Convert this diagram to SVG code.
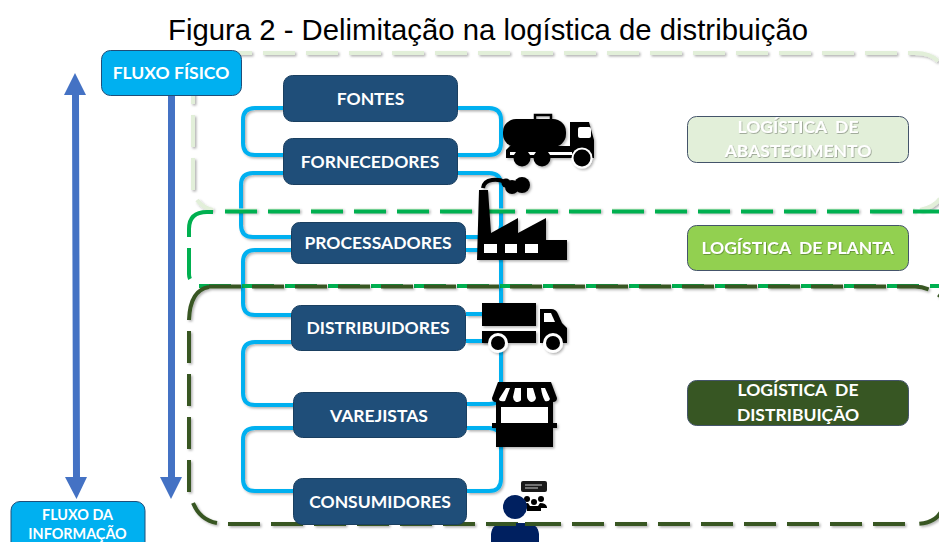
<svg xmlns="http://www.w3.org/2000/svg" width="939" height="542" viewBox="0 0 939 542">
<style>
.t{font-family:"Lato","Liberation Sans",sans-serif;font-weight:700;font-size:17.500px;fill:#fff;text-anchor:middle;white-space:pre}
.n{fill:#1F4E79;stroke:#1a3f60;stroke-width:1}
.c{fill:none;stroke:#00B0F0;stroke-width:4}
.d{fill:none;stroke-width:4;stroke-dasharray:32 11}
.a{fill:#4472C4}
.k{fill:#000}
.w{fill:#fff}
.f{fill:#00B0F0;stroke:#1F4E79;stroke-width:1}
.l{stroke:#44546A;stroke-width:1}
</style>
<defs>
<filter id="sh" x="-5%" y="-5%" width="110%" height="110%"><feDropShadow dx="1.500" dy="1.500" stdDeviation="1.200" flood-color="#000" flood-opacity="0.3"/></filter>
<filter id="ts" x="-5%" y="-20%" width="110%" height="140%"><feDropShadow dx="0.700" dy="0.700" stdDeviation="0.600" flood-color="#000" flood-opacity="0.4"/></filter>
</defs>
<rect width="939" height="542" fill="#fff"/>
<text x="488" y="40" font-family="Liberation Sans,sans-serif" font-size="29.300" fill="#000" text-anchor="middle">Figura 2 - Delimitação na logística de distribuição</text>

<g id="connectors">
<g filter="url(#sh)">
<path class="c" d="M284 108H255Q243 108 243 120V143Q243 155 255 155H284"/>
<path class="c" d="M457 108H489Q501 108 501 120V143Q501 155 489 155H457"/>
<path class="c" d="M284 173H253Q241 173 241 185V225Q241 237 253 237H292"/>
<path class="c" d="M457 173H489Q501 173 501 185V225Q501 237 489 237H466"/>
<path class="c" d="M292 250H255Q243 250 243 262V303Q243 315 255 315H292"/>
<path class="c" d="M466 250H489Q501 250 501 262V303Q501 314 489 314H466"/>
<path class="c" d="M292 342H255Q243 342 243 354V393Q243 405 255 405H294"/>
<path class="c" d="M466 341H489Q501 341 501 353V392Q501 404 489 404H467"/>
<path class="c" d="M294 428H255Q243 428 243 440V479Q243 491 255 491H294"/>
<path class="c" d="M467 428H489Q501 428 501 440V479Q501 491 489 491H467"/>
</g>
<path class="a" d="M75 73L86 95H79L80 477H87L76.500 499L65 477H73L72 95H64Z"/>
<path class="a" d="M168 96H175V477H182L171 499L160 477H168Z"/>
</g>

<g id="regiao-abastecimento" filter="url(#sh)" stroke="#E2EFD9">
<path class="d" d="M220 53H915Q945 53 945 83V181Q945 205 920 210"/>
<path class="d" d="M225 210.500H915"/>
<path class="d" d="M193 72V190"/>
<path fill="none" stroke-width="4" d="M197 200Q203 208 213 210"/>
</g>
<g id="regiao-planta" stroke="#00B050">
<path class="d" d="M225 211.500H960"/>
<path fill="none" stroke-width="4" d="M189 237V229Q189 212 207 212H213"/>
<path fill="none" stroke-width="4" d="M189 248V274Q189 277 190 279"/>
<path class="d" d="M199 286H960"/>
</g>
<g id="regiao-distribuicao" filter="url(#sh)" stroke="#375623">
<path class="d" d="M209 286.500H915Q930 286.500 945 300V494Q945 524 915 524"/>
<path fill="none" stroke-width="4" d="M209 287Q190 290 189 320"/>
<path class="d" d="M189 331V492"/>
<path fill="none" stroke-width="4" d="M193 503Q200 520 217 523"/>
<path class="d" d="M228 524H915"/>
</g>

<g id="fontes"><rect class="n" x="283.500" y="75.500" width="174" height="46" rx="9"/><text class="t" x="370.500" y="105">FONTES</text></g>
<g id="fornecedores"><rect class="n" x="283.500" y="138.500" width="174" height="46" rx="9"/><text class="t" x="370" y="168">FORNECEDORES</text></g>
<g id="processadores"><rect class="n" x="291.500" y="222.500" width="174" height="41" rx="8"/><text class="t" x="378" y="249">PROCESSADORES</text></g>
<g id="distribuidores"><rect class="n" x="291.500" y="305.500" width="174" height="45" rx="9"/><text class="t" x="378" y="334">DISTRIBUIDORES</text></g>
<g id="varejistas"><rect class="n" x="293.500" y="392.500" width="173" height="45" rx="9"/><text class="t" x="379" y="422">VAREJISTAS</text></g>
<g id="consumidores"><rect class="n" x="293.500" y="478.500" width="173" height="46" rx="9"/><text class="t" x="380" y="508">CONSUMIDORES</text></g>

<g id="fluxo-fisico"><rect class="f" x="101.500" y="50.500" width="140" height="45" rx="9"/><text class="t" x="171" y="79">FLUXO FÍSICO</text></g>
<g id="fluxo-informacao"><rect class="f" x="11" y="501.500" width="134" height="50" rx="9"/><text class="t" x="77.500" y="520" style="font-size:14.400px">FLUXO DA</text><text class="t" x="77.500" y="539" style="font-size:14.400px">INFORMAÇÃO</text></g>

<g id="logistica-abastecimento"><rect class="l" x="687.500" y="116.500" width="221" height="46" rx="9" fill="#E2EFD9"/><text class="t" x="798" y="133" filter="url(#ts)">LOGÍSTICA  DE</text><text class="t" x="798" y="157" filter="url(#ts)">ABASTECIMENTO</text></g>
<g id="logistica-planta"><rect class="l" x="687.500" y="225.500" width="221" height="45" rx="9" fill="#92D050"/><text class="t" x="797.500" y="254" filter="url(#ts)">LOGÍSTICA  DE PLANTA</text></g>
<g id="logistica-distribuicao"><rect class="l" x="687.500" y="380.500" width="221" height="45" rx="9" fill="#375623"/><text class="t" x="798" y="396">LOGÍSTICA  DE</text><text class="t" x="798" y="421">DISTRIBUIÇÃO</text></g>

<g id="icone-caminhao-tanque" filter="url(#sh)">
<rect class="k" x="503" y="119" width="63" height="28" rx="13"/>
<path fill="none" stroke="#000" stroke-width="2.500" d="M535 119V115H551V119"/>
<path class="k" d="M506 150L510 146H570V122H589L594 140V158H506Z"/>
<rect class="w" x="510" y="152" width="62" height="3"/>
<rect class="w" x="578" y="127" width="13" height="11" rx="2"/>
<circle class="k" cx="522" cy="158" r="8.500"/><circle class="k" cx="542" cy="158" r="8.500"/>
<circle class="w" cx="582" cy="158" r="10.500"/><circle class="k" cx="582" cy="158" r="8.500"/>
</g>
<g id="icone-fabrica" filter="url(#sh)">
<path class="k" d="M477 260L479 190H488L491 233L518 218V233L546 218V240H567V260Z"/>
<rect class="w" x="484" y="244" width="13" height="9"/><rect class="w" x="505" y="244" width="12" height="9"/><rect class="w" x="525" y="244" width="13" height="9"/>
<path fill="none" stroke="#000" stroke-width="4" d="M483 188Q484 181 492 180Q499 179 505 182"/>
<circle class="k" cx="506" cy="183" r="4.500"/><circle class="k" cx="512" cy="187" r="7"/><circle class="k" cx="522" cy="185" r="8"/>
</g>
<g id="icone-caminhao" filter="url(#sh)">
<rect class="k" x="482" y="303" width="54" height="23"/><rect class="k" x="482" y="331" width="54" height="12"/>
<path class="k" d="M540 309H551Q556 309 558 314L562 323L567 328V343H540Z"/>
<path class="w" d="M544 313H551L555 322H544Z"/>
<circle class="w" cx="498" cy="343" r="10"/><circle class="k" cx="498" cy="343" r="7"/>
<circle class="w" cx="553" cy="343" r="10"/><circle class="k" cx="553" cy="343" r="7"/>
</g>
<g id="icone-loja" filter="url(#sh)">
<rect class="k" x="496" y="400" width="57" height="47"/>
<path class="k" d="M498 382H551L557 398Q557 402 553 402H496Q492 402 492 398Z"/>
<rect class="w" x="501" y="407" width="47" height="16"/>
<rect class="k" x="492" y="423" width="65" height="5"/>
<path class="w" d="M506 388H510L505 401Q499 402 499 399ZM515 388H521V400Q520 402 516 402Q513 400 513 397ZM527 388H533L536 398Q535 402 531 402Q527 400 527 396ZM541 388H545L550 399Q549 402 545 401Q542 396 541 388Z"/>
</g>
<g id="icone-consumidor">
<rect x="521" y="481" width="26" height="11" rx="2" fill="#1a1a1a"/>
<path d="M525 485H542M525 488H538" stroke="#ccc" stroke-width="1"/>
<circle class="k" cx="527" cy="499" r="3"/><circle class="k" cx="534" cy="502" r="3"/><circle class="k" cx="541" cy="499" r="3"/>
<path class="k" d="M521 507Q524 503 528 503L530 506H538L540 503Q546 503 547 507V508H541V511H527V508H521Z"/>
<circle cx="515" cy="507" r="12" fill="#002060"/>
<path d="M491 542V534Q492 523 505 523H525Q538 523 539 534V542Z" fill="#002060"/>
<path d="M486 524H516M525 524H559" stroke="#375623" stroke-width="4"/>
</g>
</svg>
